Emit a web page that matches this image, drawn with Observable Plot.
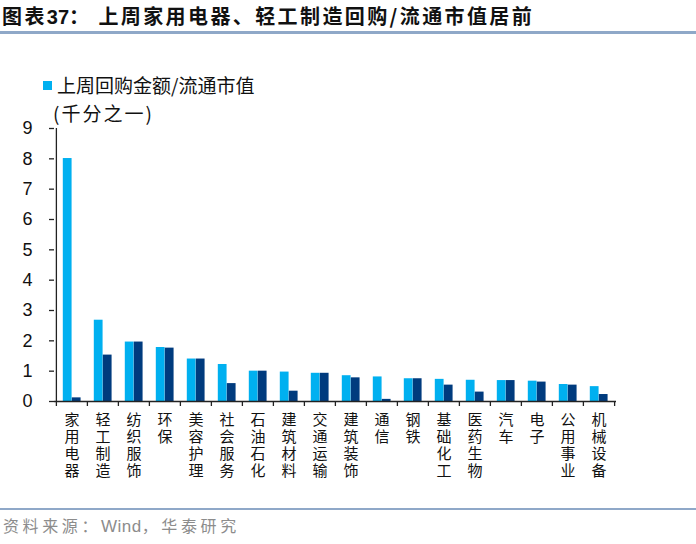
<!DOCTYPE html>
<html>
<head>
<meta charset="utf-8">
<script src="https://cdn.jsdelivr.net/npm/d3@7"></script>
<script src="https://cdn.jsdelivr.net/npm/@observablehq/plot@0.6"></script>
<style>
  html, body { margin: 0; padding: 0; background: #fff; }
  #wrap { position: relative; width: 696px; height: 544px; overflow: hidden; font-family: "Noto Sans CJK SC", "Noto Sans", sans-serif; }
  #chart { position: absolute; left: 0; top: 0; }
  .title { position: absolute; left: 2px; top: 1px; font-size: 20px; line-height: 30px; font-weight: bold; color: #111; letter-spacing: 2.4px; white-space: nowrap; }
  .title .num { font-family: "Liberation Sans Narrow", "Liberation Sans", Arial, sans-serif; letter-spacing: 0; }
  .rule { position: absolute; left: 0; width: 696px; background: #8fa8c8; }
  .legend { position: absolute; left: 43px; top: 71px; font-size: 19px; line-height: 28px; color: #111; white-space: nowrap; }
  .legend .sw { display: inline-block; width: 9px; height: 9px; background: #00b0f0; margin-right: 5px; vertical-align: 3px; }
  .unit { position: absolute; left: 53px; top: 99px; font-size: 19px; line-height: 28px; color: #111; letter-spacing: 2px; white-space: nowrap; }
  .source { position: absolute; left: 3px; top: 513px; font-size: 16px; line-height: 24px; color: #8c8c8c; letter-spacing: 3.6px; white-space: nowrap; }
  .source .lat { font-family: "Liberation Sans", Arial, sans-serif; letter-spacing: 0.5px; font-size: 17px; }
</style>
</head>
<body>
<div id="wrap">
  <div id="chart"></div>
  <div class="title">图表<span class="num">37</span>：&nbsp;上周家用电器、轻工制造回购/流通市值居前</div>
  <div class="rule" style="top:31px;height:2.5px"></div>
  <div class="legend"><span class="sw"></span>上周回购金额/流通市值</div>
  <div class="unit">(千分之一)</div>
  <div class="rule" style="top:507.5px;height:2px"></div>
  <div class="source">资料来源：<span class="lat">Wind</span>，华泰研究</div>
</div>
<script>
const categories = ["家用电器","轻工制造","纺织服饰","环保","美容护理","社会服务","石油石化","建筑材料","交通运输","建筑装饰","通信","钢铁","基础化工","医药生物","汽车","电子","公用事业","机械设备"];
const seriesLight = [8.01,2.68,1.96,1.78,1.40,1.22,1.00,0.97,0.93,0.85,0.81,0.75,0.73,0.70,0.69,0.67,0.56,0.49];
const seriesDark  = [0.12,1.53,1.96,1.76,1.40,0.59,1.00,0.34,0.93,0.78,0.07,0.75,0.54,0.31,0.69,0.64,0.54,0.23];
const yTicks = [0,1,2,3,4,5,6,7,8,9];

const W = 696, H = 544, ML = 54, MR = 80, MT = 128, MB = 143;
const step = (W - ML - MR) / categories.length;

const light = categories.map((c, i) => ({cat: c, v: seriesLight[i]}));
const dark = categories.map((c, i) => ({cat: c, v: seriesDark[i]}));

const fontNum = "Liberation Sans, Arial, sans-serif";
const fontCJK = "Noto Sans CJK SC, sans-serif";

const chart = Plot.plot({
  width: W, height: H,
  marginLeft: ML, marginRight: MR, marginTop: MT, marginBottom: MB,
  style: {background: "transparent", overflow: "visible"},
  x: {domain: categories, padding: 0, axis: null, label: null},
  y: {domain: [0, 9], axis: null, label: null},
  marks: [
    Plot.barY(light, {x: "cat", y: "v", fill: "#00b0f0", insetLeft: 6.8, insetRight: step - 15.8}),
    Plot.barY(dark, {x: "cat", y: "v", fill: "#003b7e", insetLeft: 15.8, insetRight: step - 24.8}),
    // x axis line
    Plot.ruleY([0], {stroke: "#222", strokeWidth: 1.3}),
    // y axis line
    Plot.ruleX([categories[0]], {x: d => d, y1: 0, y2: 9, dx: -step / 2, stroke: "#222", strokeWidth: 1.3}),
    // y ticks and labels
    Plot.axisY(yTicks, {label: null, tickSize: 5, tickPadding: 17, fontSize: 18, fontFamily: fontNum, fill: "#111", stroke: "#222", strokeWidth: 1.3}),
    // x boundary ticks
    Plot.axisX({label: null, tickSize: 5, tickFormat: () => "", dx: -step / 2, stroke: "#222", strokeWidth: 1.3}),
    Plot.axisX([categories[categories.length - 1]], {label: null, tickSize: 5, tickFormat: () => "", dx: step / 2, stroke: "#222", strokeWidth: 1.3}),
    // x labels (vertical stacked characters)
    Plot.axisX({label: null, tickSize: 0, tickPadding: 11, fontSize: 15, lineHeight: 1.14, fontFamily: fontCJK, fill: "#111",
      tickFormat: d => d.split("").join("\n")})
  ]
});
document.getElementById("chart").appendChild(chart);
</script>
</body>
</html>
